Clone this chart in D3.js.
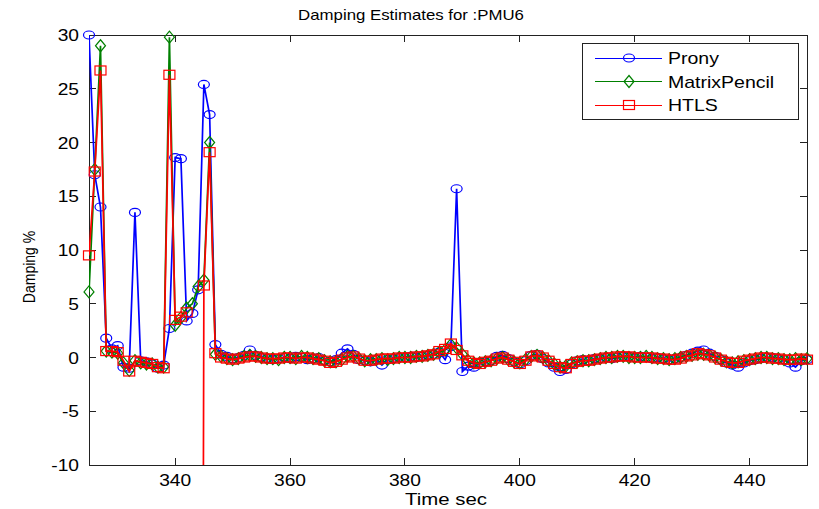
<!DOCTYPE html>
<html>

<head>
  <title>Damping Estimates for :PMU6</title>
  <script src="https://cdn.jsdelivr.net/npm/d3@7/dist/d3.min.js"></script>
</head>

<body>
  <main id="container"></main>

  <script type="module">
    // sample times (sec)
    const times = [
      325, 326, 327, 328, 329, 330, 331, 332, 333, 334,
      335, 336, 337, 338, 339, 340, 341, 342, 343, 344,
      345, 346, 347, 348, 349, 350, 351, 352, 353, 354,
      355, 356, 357, 358, 359, 360, 361, 362, 363, 364,
      365, 366, 367, 368, 369, 370, 371, 372, 373, 374,
      375, 376, 377, 378, 379, 380, 381, 382, 383, 384,
      385, 386, 387, 388, 389, 390, 391, 392, 393, 394,
      395, 396, 397, 398, 399, 400, 401, 402, 403, 404,
      405, 406, 407, 408, 409, 410, 411, 412, 413, 414,
      415, 416, 417, 418, 419, 420, 421, 422, 423, 424,
      425, 426, 427, 428, 429, 430, 431, 432, 433, 434,
      435, 436, 437, 438, 439, 440, 441, 442, 443, 444,
      445, 446, 447, 448, 449, 450
    ]

    const prony = [
      30, 17.0, 14.0, 1.8, 0.8, 1.1, -0.9, -1.0, 13.5, -0.3,
      -0.4, -0.6, -1.0, -0.7, 2.7, 18.6, 18.5, 3.4, 4.1, 6.3,
      25.4, 22.6, 1.2, 0.3, 0.1, -0.1, 0.0, 0.2, 0.7, 0.2,
      0.0, -0.1, -0.2, -0.1, 0.0, -0.1, 0.1, 0.0, -0.2, -0.1,
      0.0, -0.3, -0.4, -0.2, 0.4, 0.8, 0.3, -0.2, -0.3, -0.4,
      -0.2, -0.7, -0.2, -0.1, 0.0, 0.0, 0.1, 0.0, 0.1, 0.2,
      0.3, 0.5, -0.2, 1.0, 15.7, -1.3, -0.8, -0.9, -0.5, -0.4,
      -0.3, 0.1, 0.2, -0.1, -0.4, -0.6, -0.3, 0.2, 0.3, -0.1,
      -0.5, -0.9, -1.3, -1.1, -0.6, -0.3, -0.2, -0.3, -0.1, -0.1,
      0.0, -0.1, 0.0, 0.1, 0.1, 0.0, 0.1, 0.0, -0.1, 0.0,
      -0.1, -0.2, -0.1, 0.0, 0.2, 0.4, 0.6, 0.7, 0.4, 0.1,
      -0.2, -0.5, -0.7, -0.9, -0.5, -0.3, -0.2, -0.1, 0.0, 0.0,
      -0.1, -0.2, -0.5, -0.9, -0.3, -0.2
    ]

    const matrixPencil = [
      6.1, 17.5, 29.0, 0.6, 0.5, 0.4, -0.5, -1.2, -0.3, -0.5,
      -0.6, -0.6, -0.9, -0.9, 29.8, 3.0, 3.7, 4.6, 5.0, 6.6,
      7.2, 20.0, 0.3, 0.1, -0.1, -0.2, -0.1, 0.1, 0.2, 0.1,
      0.0, -0.1, -0.1, -0.2, 0.0, 0.0, -0.1, 0.1, 0.0, -0.1,
      -0.1, -0.3, -0.4, -0.4, -0.2, 0.1, 0.1, -0.1, -0.3, -0.2,
      -0.2, -0.1, -0.2, -0.1, 0.0, 0.0, 0.0, 0.1, 0.1, 0.2,
      0.3, 0.5, 0.7, 1.2, 0.9, 0.3, -0.3, -0.5, -0.5, -0.4,
      -0.3, -0.1, 0.0, -0.2, -0.4, -0.5, -0.2, 0.1, 0.2, 0.0,
      -0.3, -0.6, -0.9, -0.8, -0.5, -0.4, -0.3, -0.3, -0.2, -0.1,
      0.0, 0.0, 0.1, 0.1, 0.0, 0.0, 0.0, 0.1, 0.0, -0.1,
      -0.1, -0.2, -0.1, 0.0, 0.1, 0.2, 0.3, 0.3, 0.2, 0.0,
      -0.2, -0.4, -0.5, -0.4, -0.3, -0.2, -0.1, 0.0, 0.0, -0.1,
      -0.1, -0.2, -0.2, -0.1, -0.2, -0.1
    ]

    // null = no estimate, -200 = estimate far below the axis
    const htls = [
      9.5, 17.3, 26.7, 0.6, 0.6, 0.5, -0.3, -1.3, -0.3, -0.4,
      -0.5, -0.6, -0.9, -1.0, 26.3, 3.5, 3.8, 4.2, null, -200,
      6.7, 19.1, 0.4, 0.0, -0.1, -0.2, -0.1, 0.0, 0.1, 0.1,
      0.0, -0.1, -0.1, -0.1, 0.0, 0.0, -0.1, 0.0, 0.0, -0.1,
      -0.2, -0.3, -0.5, -0.4, -0.2, 0.0, 0.1, -0.1, -0.3, -0.3,
      -0.2, -0.1, -0.1, -0.1, 0.0, 0.0, 0.0, 0.1, 0.1, 0.2,
      0.3, 0.6, 0.8, 1.3, 0.7, 0.2, -0.3, -0.5, -0.6, -0.4,
      -0.3, -0.1, 0.0, -0.2, -0.4, -0.6, -0.3, 0.1, 0.2, 0.0,
      -0.3, -0.6, -0.9, -1.0, -0.6, -0.4, -0.3, -0.3, -0.2, -0.1,
      0.0, 0.0, 0.1, 0.1, 0.1, 0.0, 0.0, 0.0, 0.0, -0.1,
      -0.1, -0.2, -0.2, -0.1, 0.1, 0.2, 0.4, 0.3, 0.2, 0.0,
      -0.2, -0.4, -0.5, -0.5, -0.3, -0.2, -0.1, 0.0, 0.0, -0.1,
      -0.1, -0.2, -0.2, -0.2, -0.1, -0.2
    ]

    const seriesNames = ["Prony", "MatrixPencil", "HTLS"]
    const seriesColors = ["#0000ff", "#008000", "#ff0000"]
    const seriesShapes = ["circle", "diamond", "square"]
    const xTicks = [340, 360, 380, 400, 420, 440]
    const yTicks = [-10, -5, 0, 5, 10, 15, 20, 25, 30]

    const vizWidth = 819
    const vizHeight = 509
    const left = 89, right = 807, top = 35, bottom = 465
    const font = "'Liberation Sans', Arial, sans-serif"

    const svg = d3.select("#container")
      .append("svg")
      .attr("width", vizWidth)
      .attr("height", vizHeight)

    const x = d3.scaleLinear().domain([325, 450]).range([left, right])
    const y = d3.scaleLinear().domain([-10, 30]).range([bottom, top])

    svg.append("defs").append("clipPath").attr("id", "plot")
      .append("rect")
      .attr("x", left).attr("y", top)
      .attr("width", right - left).attr("height", bottom - top)

    // text is a bit wider than tall in the original
    function label(g, tx, ty, str, size, sx, anchor) {
      return g.append("text")
        .attr("transform", `translate(${tx},${ty}) scale(${sx},1)`)
        .attr("text-anchor", anchor)
        .attr("font-family", font)
        .attr("font-size", size)
        .attr("fill", "#000")
        .text(str)
    }

    // axes box + ticks (MATLAB style, inward on all sides)
    const axes = svg.append("g").attr("shape-rendering", "crispEdges")
    axes.append("rect")
      .attr("x", left).attr("y", top)
      .attr("width", right - left).attr("height", bottom - top)
      .attr("fill", "#fff").attr("stroke", "#222").attr("stroke-width", 1)

    const tickLen = 7
    xTicks.forEach(t => {
      axes.append("line").attr("x1", x(t)).attr("x2", x(t)).attr("y1", bottom).attr("y2", bottom - tickLen).attr("stroke", "#222")
      axes.append("line").attr("x1", x(t)).attr("x2", x(t)).attr("y1", top).attr("y2", top + tickLen).attr("stroke", "#222")
      label(axes, x(t), 486, t, 16, 1.2, "middle")
    })
    yTicks.forEach(v => {
      axes.append("line").attr("x1", left).attr("x2", left + tickLen).attr("y1", y(v)).attr("y2", y(v)).attr("stroke", "#222")
      axes.append("line").attr("x1", right).attr("x2", right - tickLen).attr("y1", y(v)).attr("y2", y(v)).attr("stroke", "#222")
      label(axes, 79, y(v) + 6, v, 16, 1.2, "end")
    })

    label(svg, 411, 20, "Damping Estimates for :PMU6", 14, 1.2, "middle")
    label(svg, 446, 505, "Time sec", 17, 1.2, "middle")
    svg.append("text")
      .attr("transform", `translate(35,${(top + bottom) / 2 + 17}) rotate(-90) scale(1,1.2)`)
      .attr("text-anchor", "middle")
      .attr("font-family", font)
      .attr("font-size", 14)
      .text("Damping %")

    function drawMarker(g, shape, color, cx, cy) {
      if (shape === "circle") {
        g.append("ellipse").attr("cx", cx).attr("cy", cy).attr("rx", 5.5).attr("ry", 4)
          .attr("fill", "none").attr("stroke", color).attr("stroke-width", 1.2)
      } else if (shape === "diamond") {
        g.append("path")
          .attr("d", `M${cx},${cy - 6}L${cx + 5},${cy}L${cx},${cy + 6}L${cx - 5},${cy}Z`)
          .attr("fill", "none").attr("stroke", color).attr("stroke-width", 1.2)
      } else {
        g.append("rect").attr("x", cx - 5.5).attr("y", cy - 4.5).attr("width", 11).attr("height", 9)
          .attr("fill", "none").attr("stroke", color).attr("stroke-width", 1.2)
      }
    }

    const allSeries = [prony, matrixPencil, htls]

    allSeries.forEach((vals, k) => {
      const pts = times.map((t, i) => [t, vals[i]])
      const g = svg.append("g")

      const line = d3.line()
        .defined(d => d[1] != null)
        .x(d => x(d[0]))
        .y(d => y(d[1]))

      g.append("path")
        .datum(pts)
        .attr("clip-path", "url(#plot)")
        .attr("fill", "none")
        .attr("stroke", seriesColors[k])
        .attr("stroke-width", 1.7)
        .attr("d", line)

      pts.filter(d => d[1] != null && d[1] >= -10 && d[1] <= 30)
        .forEach(d => drawMarker(g, seriesShapes[k], seriesColors[k], x(d[0]), y(d[1])))
    })

    // legend
    const lg = svg.append("g")
    lg.append("rect")
      .attr("x", 582).attr("y", 43).attr("width", 216).attr("height", 76)
      .attr("fill", "#fff").attr("stroke", "#222").attr("shape-rendering", "crispEdges")
    seriesNames.forEach((name, k) => {
      const ly = 58 + k * 23.5
      lg.append("line").attr("x1", 595).attr("x2", 662).attr("y1", ly).attr("y2", ly)
        .attr("stroke", seriesColors[k]).attr("shape-rendering", "crispEdges")
      drawMarker(lg, seriesShapes[k], seriesColors[k], 629, ly)
      label(lg, 668, ly + 6, name, 16, 1.22, "start")
    })
  </script>
  <style>
    body {
      margin: 0;
      background: #fff;
    }
  </style>

</body>

</html>
